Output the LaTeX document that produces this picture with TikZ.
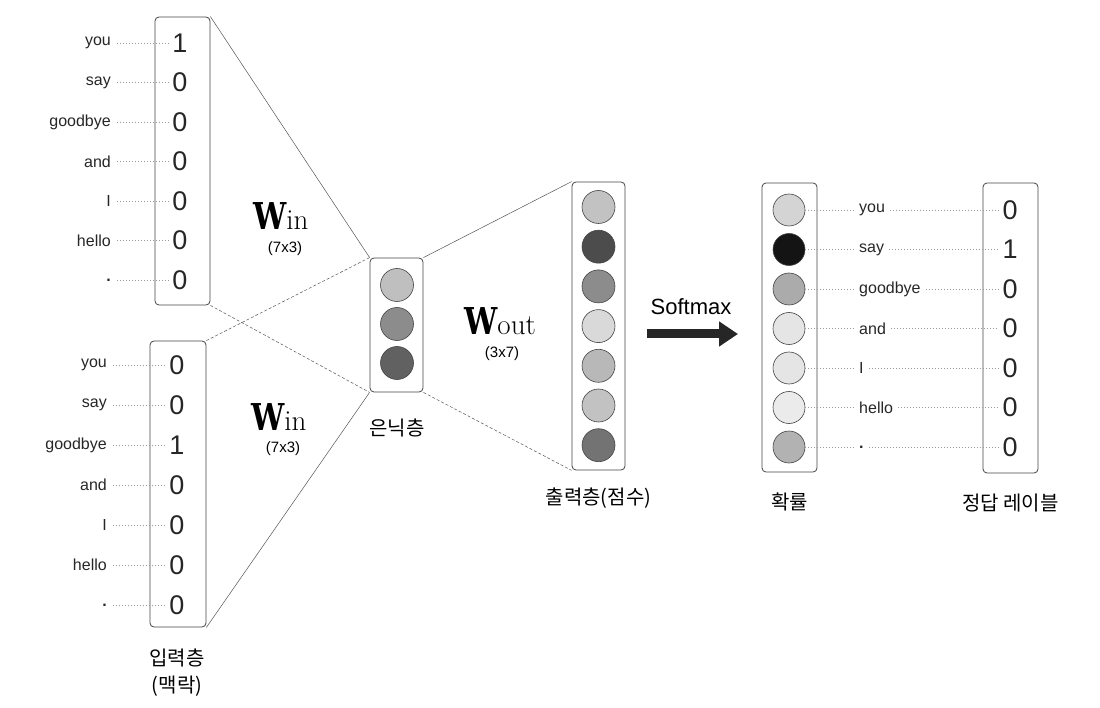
\documentclass[tikz,border=0pt]{standalone}
\usepackage{fontspec}
\usepackage{graphicx}
\newfontfamily\hv{Liberation Sans}
\newfontfamily\kr{Noto Sans CJK KR}
\newfontfamily\dvs{DejaVu Serif}
\usetikzlibrary{arrows.meta}
\definecolor{lineg}{HTML}{555555}
\definecolor{boxg}{HTML}{444444}
\tikzset{
  vbox/.style={draw=boxg, line width=0.8pt, rounded corners=4pt, inner sep=0pt},
  conn/.style={draw=lineg, line width=0.5pt},
  hidconn/.style={draw=lineg, line width=0.5pt, dash pattern=on 3pt off 2pt},
  dots/.style={draw=gray!80, line width=0.5pt, dash pattern=on 1pt off 2pt},
  word/.style={font=\hv\fontsize{16}{19}\selectfont, text=black!85, inner sep=1pt},
  digit/.style={font=\hv\fontsize{27}{30}\selectfont, text=black!85, inner sep=1pt},
  kor/.style={font=\kr\fontsize{20}{24}\selectfont, inner sep=0pt},
  dimlab/.style={font=\hv\fontsize{15}{18}\selectfont, inner sep=0pt},
  wlab/.style={anchor=base west, inner sep=0pt},
  unit/.style={circle, draw=boxg, line width=0.6pt, minimum size=#1, inner sep=0pt},
  unit/.default=33pt
}
\newcommand{\Wlab}[1]{{\scalebox{0.8}[1]{\dvs\fontsize{37}{37}\selectfont\bfseries W}}{\fontsize{29}{29}\selectfont #1}}
\begin{document}
\begin{tikzpicture}[x=1pt,y=-1pt]
\useasboundingbox (0,0) rectangle (1100,708);

% ---------- boxes ----------
\node[vbox, minimum width=55pt, minimum height=288pt] (inA) at (182.5,161) {};
\node[vbox, minimum width=56pt, minimum height=286pt] (inB) at (178,484) {};
\node[vbox, minimum width=53pt, minimum height=134pt] (hid) at (396.5,325) {};
\node[vbox, minimum width=53pt, minimum height=288pt] (out) at (598.5,326) {};
\node[vbox, minimum width=55pt, minimum height=289pt] (prob) at (789.5,327.5) {};
\node[vbox, minimum width=55pt, minimum height=290pt] (lab) at (1010.5,328) {};

% ---------- connectors between layers ----------
\draw[conn] (inA.north east) -- (hid.north west);
\draw[hidconn] (inA.south east) -- (hid.south west);
\draw[hidconn] (inB.north east) -- (hid.north west);
\draw[conn] (inB.south east) -- (hid.south west);
\draw[conn] (hid.north east) -- (out.north west);
\draw[hidconn] (hid.south east) -- (out.south west);

% ---------- top input (context 1) ----------
\foreach \w/\d [count=\i from 0] in {you/1,say/0,goodbye/0,and/0,I/0,hello/0,\textbf{.}/0}{
  \node[word, anchor=east] (aw\i) at (112,43+39.5*\i) {\w};
  \node[digit] (ad\i) at (180,43+39.5*\i) {\d};
  \draw[dots] ([xshift=5pt]aw\i.east) -- ([xshift=-3pt]ad\i.west);
}
% ---------- bottom input (context 2) ----------
\foreach \w/\d [count=\i from 0] in {you/0,say/0,goodbye/1,and/0,I/0,hello/0,\textbf{.}/0}{
  \node[word, anchor=east] (bw\i) at (108,365+40*\i) {\w};
  \node[digit] (bd\i) at (177,365+40*\i) {\d};
  \draw[dots] ([xshift=5pt]bw\i.east) -- ([xshift=-3pt]bd\i.west);
}
\node[kor] (inlab) at (177,658) {입력층};
\node[kor] (inlab2) at (177,686) {(맥락)};

% ---------- hidden layer ----------
\node[unit, fill=black!25] (h1) at (397,285) {};
\node[unit, fill=black!45] (h2) at (397,324) {};
\node[unit, fill=black!62] (h3) at (397,363) {};
\node[kor] (hidlab) at (397,428) {은닉층};

% ---------- weight labels ----------
\node[wlab] (win1) at (253,230) {\Wlab{in}};
\node[dimlab] (win1d) at (285,249) {(7x3)};
\node[wlab] (win2) at (251,430) {\Wlab{in}};
\node[dimlab] (win2d) at (283,449) {(7x3)};
\node[wlab] (wout) at (464,335) {\Wlab{out}};
\node[dimlab] (woutd) at (502,354) {(3x7)};

% ---------- output layer (scores) ----------
\foreach \g [count=\i from 0] in {24,70,45,15,28,24,55}{
  \node[unit, fill=black!\g] (o\i) at (598.5,207+39.7*\i) {};
}
\node[kor] (outlab) at (598.5,498) {출력층(점수)};

% ---------- softmax arrow ----------
\coordinate (sa) at (647,334);
\coordinate (sb) at (738,334);
\draw[line width=9pt, draw=black!85, -{Triangle[length=19pt,width=24pt]}] (sa) -- (sb);
\node[font=\hv\fontsize{22}{26}\selectfont, inner sep=0pt] (smx) at (691,307) {Softmax};

% ---------- probabilities ----------
\foreach \g/\w/\d [count=\i from 0] in {17/you/0,92/say/1,33/goodbye/0,10/and/0,10/I/0,8/hello/0,30/\textbf{.}/0}{
  \node[unit=32pt, fill=black!\g] (p\i) at (789,210+39.5*\i) {};
  \node[word, anchor=west] (pw\i) at (858,210+39.5*\i) {\w};
  \node[digit] (ld\i) at (1010,210+39.5*\i) {\d};
  \draw[dots] (p\i.east) -- ([xshift=-4pt]pw\i.west);
  \draw[dots] ([xshift=4pt]pw\i.east) -- ([xshift=-3pt]ld\i.west);
}
\node[kor] (problab) at (789.5,502) {확률};
\node[kor] (lablab) at (1010.5,503) {정답 레이블};
\end{tikzpicture}
\end{document}
